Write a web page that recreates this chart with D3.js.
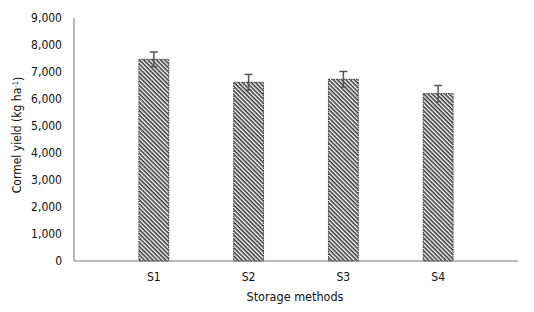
<!DOCTYPE html>
<html>
<head>
<meta charset="utf-8">
<script src="https://cdn.jsdelivr.net/npm/d3@7"></script>
<style>
body { margin: 0; background: #fff; }
text { font-family: "Liberation Sans Narrow", "DejaVu Sans Condensed", "Liberation Sans", Arial, sans-serif; font-stretch: condensed; fill: #111; }
</style>
</head>
<body>
<div id="chart"></div>
<script>
// data
var methods = ["S1", "S2", "S3", "S4"]
var yieldMean = [7470, 6620, 6730, 6200]
var yieldErr = [270, 290, 290, 300]
var yTicks = [0, 1000, 2000, 3000, 4000, 5000, 6000, 7000, 8000, 9000]

var width = 534, height = 312
var margin = {top: 18, right: 16, bottom: 51, left: 74}

var svg = d3.select("#chart").append("svg")
    .attr("width", width)
    .attr("height", height)

// hatch fill
var pat = svg.append("defs").append("pattern")
    .attr("id", "hatch")
    .attr("patternUnits", "userSpaceOnUse")
    .attr("width", 3)
    .attr("height", 3)
    .attr("patternTransform", "rotate(45)")
pat.append("rect").attr("width", 3).attr("height", 3).attr("fill", "#fff")
pat.append("rect").attr("width", 3).attr("height", 1.6).attr("fill", "#3a3a3a")

var x = d3.scaleBand()
    .domain(methods)
    .range([margin.left, width - margin.right])
    .padding(0.685)

var y = d3.scaleLinear()
    .domain([0, 9000])
    .range([height - margin.bottom, margin.top])

var data = methods.map(function(m, i) { return {m: m, v: yieldMean[i], e: yieldErr[i]} })

// y axis: line only, no ticks
svg.append("line")
    .attr("x1", margin.left).attr("x2", margin.left)
    .attr("y1", y(9000)).attr("y2", y(0))
    .style("stroke", "#777").style("stroke-width", 1)

svg.selectAll(".ytick")
    .data(yTicks).enter()
    .append("text")
    .attr("class", "ytick")
    .attr("x", margin.left - 12)
    .attr("y", function(d) { return y(d) })
    .attr("dy", "0.35em")
    .attr("text-anchor", "end")
    .style("font-size", "12px")
    .text(function(d) { return d3.format(",")(d) })

// bars
svg.selectAll(".bar")
    .data(data).enter()
    .append("rect")
    .attr("class", "bar")
    .attr("x", function(d) { return x(d.m) })
    .attr("y", function(d) { return y(d.v) })
    .attr("width", x.bandwidth())
    .attr("height", function(d) { return y(0) - y(d.v) })
    .style("fill", "url(#hatch)")
    .style("stroke", "#333")
    .style("stroke-width", 1)
    .style("stroke-dasharray", "1.5,1")

// error bars
var eb = svg.selectAll(".err")
    .data(data).enter()
    .append("g")
    .attr("class", "err")
    .style("stroke", "#555")
    .style("stroke-width", 1.5)
eb.append("line")
    .attr("x1", function(d) { return x(d.m) + x.bandwidth() / 2 })
    .attr("x2", function(d) { return x(d.m) + x.bandwidth() / 2 })
    .attr("y1", function(d) { return y(d.v + d.e) })
    .attr("y2", function(d) { return y(d.v - d.e) })
eb.append("line")
    .attr("x1", function(d) { return x(d.m) + x.bandwidth() / 2 - 4 })
    .attr("x2", function(d) { return x(d.m) + x.bandwidth() / 2 + 4 })
    .attr("y1", function(d) { return y(d.v + d.e) })
    .attr("y2", function(d) { return y(d.v + d.e) })
eb.append("line")
    .attr("x1", function(d) { return x(d.m) + x.bandwidth() / 2 - 3 })
    .attr("x2", function(d) { return x(d.m) + x.bandwidth() / 2 + 3 })
    .attr("y1", function(d) { return y(d.v - d.e) })
    .attr("y2", function(d) { return y(d.v - d.e) })

// x axis line
svg.append("line")
    .attr("x1", margin.left).attr("x2", width - margin.right)
    .attr("y1", y(0)).attr("y2", y(0))
    .style("stroke", "#777").style("stroke-width", 1)

svg.selectAll(".xtick")
    .data(methods).enter()
    .append("text")
    .attr("class", "xtick")
    .attr("x", function(d) { return x(d) + x.bandwidth() / 2 })
    .attr("y", y(0) + 16)
    .attr("dy", "0.35em")
    .attr("text-anchor", "middle")
    .style("font-size", "12px")
    .text(function(d) { return d })

svg.append("text")
    .attr("x", 295)
    .attr("y", y(0) + 36)
    .attr("dy", "0.35em")
    .attr("text-anchor", "middle")
    .style("font-size", "12.5px")
    .text("Storage methods")

var yl = svg.append("text")
    .attr("transform", "translate(17,135) rotate(-90)")
    .attr("text-anchor", "middle")
    .attr("dy", "0.35em")
    .style("font-size", "12px")
yl.append("tspan").text("Cormel yield (kg ha")
yl.append("tspan").attr("dy", "-0.4em").style("font-size", "7.5px").text("-1")
yl.append("tspan").attr("dy", "0.4em").text(")")
</script>
</body>
</html>
